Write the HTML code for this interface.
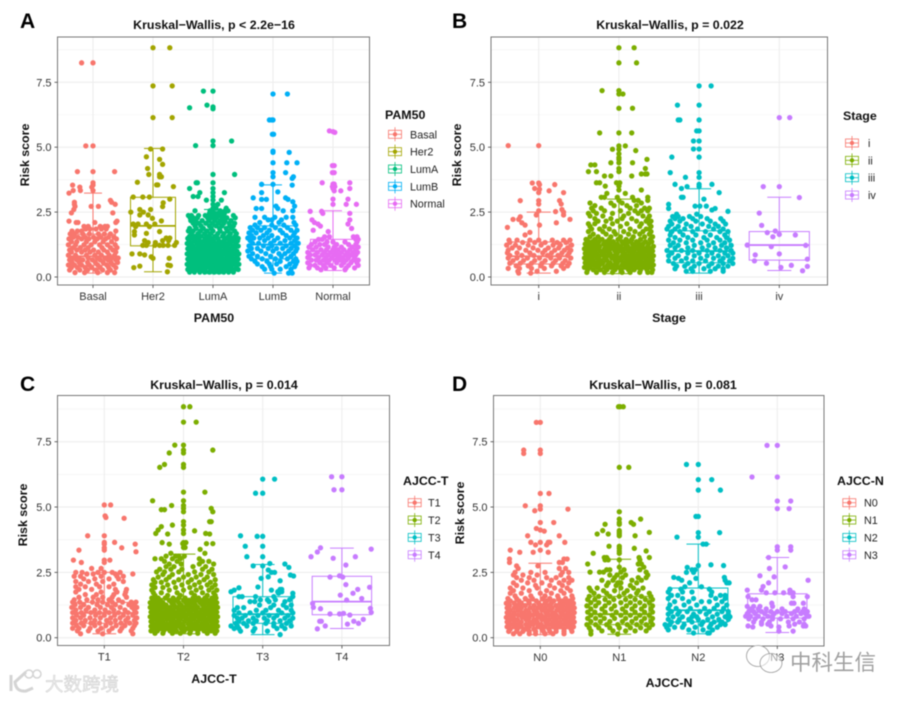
<!DOCTYPE html>
<html lang="en">
<head>
<meta charset="utf-8">
<title>Risk score by subtype and stage</title>
<style>
html,body{margin:0;padding:0;background:#fff;}
#figure{display:block;width:906px;height:701px;filter:blur(.4px);font-family:"Liberation Sans","Noto Sans CJK SC",sans-serif;}
.t{font-weight:bold;font-size:12.4px;fill:#111;}
.letter{font-weight:bold;font-size:21px;fill:#000;}
.tick{font-size:11px;fill:#333;}
.leg{font-size:10.8px;fill:#222;}
</style>
</head>
<body>
<svg id="figure" xmlns="http://www.w3.org/2000/svg" width="906" height="701" viewBox="0 0 906 701">
<rect width="906" height="701" fill="#fff"/>

<g id="panel-a"></g>
<g id="panel-b"></g>
<g id="panel-c"></g>
<g id="panel-d"></g>

<text class="letter" x="20" y="28">A</text>
<text class="letter" x="452" y="28">B</text>
<text class="letter" x="20" y="391">C</text>
<text class="letter" x="452" y="391">D</text>

<text class="t" x="214" y="29" text-anchor="middle">Kruskal−Wallis, p &lt; 2.2e−16</text>
<text class="t" x="670" y="29" text-anchor="middle">Kruskal−Wallis, p = 0.022</text>
<text class="t" x="224" y="389" text-anchor="middle">Kruskal−Wallis, p = 0.014</text>
<text class="t" x="663" y="389" text-anchor="middle">Kruskal−Wallis, p = 0.081</text>

<text class="t" transform="translate(29,155) rotate(-90)" text-anchor="middle">Risk score</text>
<text class="t" transform="translate(461,155) rotate(-90)" text-anchor="middle">Risk score</text>
<text class="t" transform="translate(27,515) rotate(-90)" text-anchor="middle">Risk score</text>
<text class="t" transform="translate(464,513) rotate(-90)" text-anchor="middle">Risk score</text>

<text class="t" x="214" y="322" text-anchor="middle">PAM50</text>
<text class="t" x="669" y="322" text-anchor="middle">Stage</text>
<text class="t" x="214" y="683" text-anchor="middle">AJCC-T</text>
<text class="t" x="669" y="687" text-anchor="middle">AJCC-N</text>

<text class="t" x="385" y="119">PAM50</text>
<text class="t" x="843" y="120">Stage</text>
<text class="t" x="403" y="485">AJCC-T</text>
<text class="t" x="837" y="485">AJCC-N</text>

<g>
  <path d="M11 675 L11 691 M26 672 L15 682 Q16 692 26 691 L33 688" fill="none" stroke="#d4d4d4" stroke-width="3"/>
  <circle cx="29" cy="674" r="4" fill="none" stroke="#d4d4d4" stroke-width="1.5"/>
  <circle cx="37" cy="674" r="4" fill="none" stroke="#d4d4d4" stroke-width="1.5"/>
  <text x="45" y="691" font-size="18.5" fill="#ececec" stroke="#c8c8c8" stroke-width=".4">大数跨境</text>
</g>
<g>
  <ellipse cx="758" cy="656" rx="11.5" ry="10.5" fill="#fff" stroke="#999" stroke-width=".8"/>
  <ellipse cx="771" cy="663" rx="11" ry="9.5" fill="#fff" fill-opacity=".55" stroke="#999" stroke-width=".8"/>
  <text x="790" y="670" font-size="21.5" fill="#a0a0a0">中科生信</text>
</g>
</svg>

<script>
/* ---------- shared axis values ---------- */
const yTickValues = [0, 2.5, 5, 7.5];
const yTickLabels = ['0.0', '2.5', '5.0', '7.5'];
const yMinorValues = [1.25, 3.75, 6.25, 8.75];

/* ---------- colours ---------- */
const colors5 = ['#F8766D', '#A3A500', '#00BF7D', '#00B0F6', '#E76BF3'];
const colors4 = ['#F8766D', '#7CAE00', '#00BFC4', '#C77CFF'];

/* ---------- categories ---------- */
const pam50Categories = ['Basal', 'Her2', 'LumA', 'LumB', 'Normal'];
const stageCategories = ['i', 'ii', 'iii', 'iv'];
const ajccTCategories = ['T1', 'T2', 'T3', 'T4'];
const ajccNCategories = ['N0', 'N1', 'N2', 'N3'];

/* ---------- box stats: low whisker, q1, median, q3, high whisker ---------- */
const pam50Boxes = [[.15,.45,.8,1.65,3.23],[.2,1.2,1.97,3.07,4.95],[.13,.5,.9,1.5,2.6],[.15,.7,1.25,1.97,3.55],[.25,.65,1,1.45,2.55]];
const stageBoxes = [[.15,.5,.8,1.35,2.5],[.13,.45,.8,1.4,3],[.15,.55,1,1.78,3.4],[.25,.65,1.23,1.75,3.07]];
const ajccTBoxes = [[.15,.55,.95,1.35,2.5],[.15,.5,.9,1.5,3.2],[.12,.55,.9,1.57,2.8],[.35,.88,1.38,2.35,3.43]];
const ajccNBoxes = [[.12,.5,.85,1.4,2.85],[.13,.5,.9,1.58,3],[.15,.6,1.05,1.9,3.58],[.2,.75,.98,1.68,3.07]];

/* ---------- points: each row is [risk score, jitter% of category spacing, ...] ---------- */
const basalPoints = [[8.25,-19,0],[5.05,-12,0],[4.06,-26,0,36],[3.63,0],[3.54,-34,0],[3.46,-22,-2],[3.33,-33,-21,0],[3.23,-40],[2.95,29],[2.88,31,-31],[2.8,37,-31],[2.72,-30,-3,9],[2.6,-32],[2.47,-36,33],[2.15,-40,40],[2.1,-28,-25,3,38],[1.95,-15,-8,12,20,24],[1.85,-12,-5,5,14,22],[1.77,-35,-26,-19,38],[1.66,-38,-31,-17,-6,9,19,29],[1.53,-33,-25,-13,1,13,26,35],[1.47,-40,-19,-7,7,21,39],[1.36,-36,-27,-11,3,17,31],[1.24,-41,-29,-15,-3,11,24,37],[1.13,-33,-21,-8,15,29,40],[1.04,-39,-27,-13,1,18,33],[.96,-36,-19,-5,9,24,38],[.84,-41,-29,-11,3,14,27,36],[.73,-33,-23,-8,7,20,31,42],[.66,-39,-27,-17,-1,12,25,38],[.56,-35,-23,-9,4,17,30,41],[.46,-41,-31,-19,-6,8,23,34],[.36,-36,-26,-13,-2,12,26,38],[.27,-39,-22,-9,5,16,29],[.17,-30,-14,8,24,36]];
const her2Points = [[8.83,0,28],[7.36,0,32],[6.14,0,32],[4.93,-4,16],[4.63,-11],[4.53,11],[4.34,16],[4.18,-9],[3.95,-7,11],[3.86,14,11],[3.65,-26],[3.55,6,8],[3.48,34],[3.08,-33,-17,-6],[3,28],[2.86,17],[2.71,16],[2.6,-22,-4],[2.5,-37,-16],[2.39,-8,-22],[2.26,-1],[2.16,14],[2.04,-33,-25,-11,3],[1.94,-29,-6],[1.75,-31,11],[1.68,-11],[1.62,-31],[1.5,28,22],[1.4,-14,16,26],[1.33,39,-8,4],[1.22,-17,-11,3,11,17,25,36],[.89,-35,-22],[.85,-14],[.78,-3],[.72,0,27],[.42,-22],[.36,-32],[.46,25],[.44,29],[.2,24]];
const lumAPoints = [[7.16,-16,0],[6.62,-10],[6.55,0],[6.52,-39],[6.48,0],[5.24,0,31],[5.06,0,-29],[3.95,0,36],[3.63,-28,-26,0],[3.41,-39,0],[3.25,0,19,-22],[3.1,-25,-33,0],[2.96,-11,14,0],[2.8,0,8],[2.65,0,5,22],[2.55,-30,-5,-1,12,20,25],[2.45,-6,0,3,8,14,19],[2.37,-41,-36,-24,-13,-5,2,9,17,34],[2.28,-38,-33,-26,-9,-2,6,15,23,37],[2.17,-37,-29,-18,-7,3,12,20,30],[2.07,-33,-24,-12,-1,9,18,27,36],[1.97,-30,-20,-6,5,15,28,34],[1.87,-39,-28,-16,-3,11,22,31],[1.77,-41,-33,-21,-10,0,12,24,36],[1.67,-36,-25,-14,-4,8,18,29,39],[1.57,-39,-30,-20,-8,4,16,26,37],[1.49,-42,-34,-25,-13,-3,8,21,32,42],[1.39,-40,-31,-22,-15,-7,1,10,18,27,35,41],[1.29,-43,-36,-27,-20,-11,-4,5,13,21,29,38],[1.19,-39,-33,-24,-16,-8,0,8,16,24,33,42],[1.09,-42,-35,-28,-20,-13,-4,4,11,20,27,36],[.99,-39,-31,-24,-16,-9,-1,7,15,23,31,40],[.89,-43,-35,-27,-20,-13,-5,3,11,19,28,36,43],[.79,-39,-32,-24,-17,-9,-1,7,14,23,31,40],[.69,-42,-35,-28,-21,-13,-5,3,10,18,26,35,42],[.59,-39,-31,-24,-16,-8,0,8,15,23,31,39],[.49,-43,-36,-28,-20,-12,-4,4,12,19,27,35,43],[.39,-40,-32,-25,-17,-9,-1,7,15,23,30,39],[.29,-42,-35,-28,-20,-13,-4,4,12,20,28,36,42],[.19,-39,-31,-22,-14,-6,2,10,18,26,34]];
const lumBPoints = [[7.05,0,24],[6.05,-6,-2,0],[5.5,-1,1],[4.85,0],[4.8,0,27],[4.4,0,23,40],[4.02,0,21],[3.86,0,34],[3.8,32],[3.57,-19,0],[3.54,32],[3.28,8],[3.25,-19],[3.05,-33,21],[2.99,-19,-11,25],[2.9,33],[2.73,36,5],[2.64,-28,-19,8],[2.55,17,33],[2.3,-30,-14,3,22,33],[2.2,-8,14,-2],[2.1,-22,10,35],[2,-30,-2,18,38],[1.9,-38,-26,-14,4,24],[1.8,-34,-20,-6,12,30,40],[1.7,-40,-28,-10,16,36],[1.6,-36,-16,-2,22,34],[1.5,-42,-32,-22,-8,8,28,40],[1.4,-38,-14,2,20,36],[1.3,-34,-24,-4,12,30,42],[1.2,-40,-16,-2,22,36],[1.1,-36,-26,-8,6,16,30,40],[1,-42,-20,0,26,38],[.9,-34,-12,10,20,34],[.8,-40,-26,-4,14,30],[.7,-36,-18,4,24,38],[.6,-30,-10,12,34,40],[.5,-26,-6,6,28,38],[.4,-18,-4,22,36],[.3,-14,-2,12,30],[.15,2,26,32]];
const normalPoints = [[5.63,-6],[5.6,0],[5.57,3],[4.29,-1,2],[4.02,-1,2],[3.63,-18,28],[3.58,0,2],[3.48,-1,3],[3.41,28,0],[3.32,13,2],[3,0,25],[2.8,0,22,39],[2.53,-38,-19],[2.45,-17,28],[2.2,-35,28],[2.1,-31],[2.04,-25,25],[1.96,-21],[1.87,31],[1.8,-33],[1.75,-8],[1.55,-14,-6,34,40],[1.45,-24,-18,38,42],[1.35,-30,-10,0,20,40],[1.25,-36,-22,-14,6,26,38],[1.15,-40,-28,-8,2,14,32,42],[1.05,-34,-20,-11,0,8,18,28,38],[.95,-42,-26,-14,-4,5,14,24,34,41],[.85,-38,-30,-18,-8,2,10,21,30,38],[.75,-42,-24,-12,-2,8,16,26,36],[.65,-36,-28,-16,-6,4,12,22,34,42],[.55,-42,-22,-10,6,18,30,40],[.45,-38,-30,-16,-4,14,26,42],[.35,-40,-26,-12,2,22,36],[.28,-20,20]];

const stageIPoints = [[5.06,-38,0],[3.62,-8,0],[3.56,20,1],[3.41,-5],[3.38,1],[3.32,13],[3.25,31,0],[2.94,-23,26,0],[2.81,28,0],[2.6,29],[2.55,0],[2.52,21],[2.5,31],[2.39,31,-3],[2.32,-23],[2.22,-32,-25,39],[2.09,-21,22],[2,-17,1],[1.91,-39],[1.72,-11],[1.62,-17],[1.42,-37,-27,-11,0,17,31,39],[1.33,-36,-20,-5,8,23,34],[1.23,-40,-29,-13,3,18,27,41],[1.12,-33,-24,-7,12,25,36],[1.03,-38,-16,-1,8,20,32,40],[.93,-39,-27,-11,5,16,29,38],[.83,-36,-21,-6,11,24,36],[.73,-38,-27,-14,1,15,26,40],[.63,-32,-19,-5,8,21,33],[.53,-36,-23,-9,4,18,30,38],[.43,-28,-13,3,16,28,36],[.33,-38,-24,-9,7,31],[.22,-26,-2,22],[.15,-25,-10]];
const stageIiPoints = [[8.83,0,19],[8.25,0,22],[7.18,-21,0],[7.05,0,5],[6.5,0,17],[5.55,-24,0,16],[5.05,0,8],[4.92,-8,0],[4.87,21],[4.75,0],[4.6,0],[4.53,35,0],[4.4,-10,17,0],[4.32,-35,-30],[4.18,33,0],[4.06,-38,-28,0],[3.97,33,28,35],[3.89,-18,-10,16],[3.63,-28,-24,-3,1],[3.5,-17,0],[3.35,28,0],[3.22,-15,8],[3.07,-22,-18,-2,17,36],[2.95,19,24,36,0],[2.85,-36,-10,4,28],[2.75,-30,-6,10,22],[2.65,-34,-22,14,32,38],[2.55,-32,-18,2,20,28,36],[2.45,-38,-28,-8,12,24],[2.35,-36,-20,6,30,38],[2.25,-30,-10,4,16,36],[2.15,-26,-16,-2,22,34,40],[2.05,-38,-30,-8,10,28,38],[1.95,-36,-18,2,26,40],[1.85,-34,-24,-12,14,34,38],[1.75,-38,-20,-6,6,20,30,40],[1.65,-32,-16,-4,12,26,38],[1.55,-36,-26,-10,2,18,32,42],[1.45,-41,-30,-21,-12,-1,9,16,27,39],[1.36,-38,-33,-25,-16,-7,4,12,22,33,41],[1.27,-42,-35,-28,-19,-11,-2,7,17,25,30,37],[1.18,-40,-31,-24,-14,-6,2,11,20,28,36,43],[1.09,-43,-36,-27,-18,-10,-1,7,15,24,32,39],[1,-39,-32,-23,-15,-5,3,12,19,27,35,42],[.91,-42,-35,-28,-19,-11,-2,7,16,24,31,38],[.82,-40,-31,-24,-14,-6,4,11,20,28,36,43],[.73,-43,-36,-27,-18,-9,-1,8,15,23,32,39],[.64,-39,-32,-23,-15,-5,3,12,19,27,35,42],[.55,-42,-35,-28,-20,-11,-2,7,16,24,31,38],[.46,-40,-31,-24,-14,-6,4,11,20,28,36,43],[.37,-43,-36,-27,-18,-10,-1,8,15,23,32,39],[.28,-39,-32,-23,-15,-5,3,12,19,27,35,42],[.18,-40,-28,-18,-8,4,14,26,36,41]];
const stageIiiPoints = [[7.36,0,15],[6.62,-27,0],[6.05,-26,-24,0],[5.63,-3,0],[5.24,-7,0],[4.93,-7,0],[4.62,-34,0],[4.02,-36,0],[3.84,-17,0],[3.57,-30,0,16],[3.48,-15,0],[3.41,-22],[3.25,25],[3.07,-22,-20],[3,6],[2.8,-38],[2.73,-5,1,9],[2.64,20,-38],[2.58,16],[2.53,36],[2.42,-3,-28],[2.33,-33,-26,-12,2],[2.25,27,-30,-20,-8,10],[2.15,-36,-24,-4,14,30],[2.04,33,-34,-16,4,20],[1.95,-38,-26,-10,12,24],[1.85,-40,-30,-18,-2,18,30],[1.75,-34,-24,-8,8,26,36],[1.62,-36,-20,-4,14,32],[1.52,-30,-14,6,22,34],[1.42,-38,-24,-8,10,26,38],[1.32,-32,-16,2,18,32],[1.22,-36,-26,-6,12,28,40],[1.12,-30,-14,4,20,34],[1.02,-40,-22,-8,10,26,40],[.92,-34,-14,0,16,32,42],[.82,-38,-26,-6,10,24,36],[.72,-30,-16,2,18,30,42],[.62,-38,-22,-8,8,26,38],[.52,-32,-14,0,16,30,42],[.42,-28,-18,-6,12,24,36],[.32,-30,-10,6,20,30],[.22,-16,-8,14,30]];
const stageIvPoints = [[6.14,0,13],[3.48,-20,0],[3.06,25],[2.46,-25],[1.99,-22],[1.77,-5],[1.71,-15],[1.64,0],[1.62,20],[1.55,-8],[1.23,-40],[1.22,33],[1.17,-10],[.89,0],[.85,-30],[.69,35],[.62,-31],[.53,-16],[.45,15],[.41,35],[.37,2],[.24,29]];

const t1Points = [[5.08,0,8],[4.66,1],[4.6,2],[4.57,25],[3.9,-21,0],[3.65,13,0],[3.58,39,0],[3.44,22,0],[3.35,-32,0],[3.29,40],[2.97,-39,0,7],[2.88,-29,0],[2.65,-16,-4],[2.5,-36,-28,-8,0,10,20],[2.44,36,-22,-14,14],[2.35,-38,-30,-4,16,24],[2.25,-26,-12,6,18],[2.15,-36,-20,-2,24],[2.05,-30,-10,12],[1.95,-36,-24,-6,6],[1.85,-32,-16,14,28],[1.75,-36,-4,16,27],[1.65,-24,-10,12,26],[1.55,-32,-14,-2,10,28],[1.45,-38,-22,-8,6,18],[1.36,-40,-31,-15,-2,10,23,34,40],[1.26,-37,-26,-9,4,14,31,38],[1.16,-41,-30,-20,-5,9,20,35,41],[1.06,-36,-23,-12,1,12,26,38],[.96,-40,-29,-17,-6,6,18,30,40],[.86,-35,-26,-11,0,13,24,36],[.76,-40,-30,-18,-5,8,20,30,41],[.66,-36,-24,-12,3,14,27,38],[.56,-40,-29,-17,-6,8,21,32,40],[.46,-35,-26,-12,2,15,26,38],[.36,-40,-32,-18,-4,10,22,36],[.26,-34,-20,-8,6,20,34],[.15,-30,-2,36]];
const t2Points = [[8.84,0,8],[8.25,0,16],[7.37,-11,0],[7.18,0,37],[7.07,-18,0],[6.63,-24,0],[6.52,-30,0],[5.57,0,27],[5.24,-39,0],[5.06,-15,0],[4.95,35,0],[4.9,-28,-24],[4.82,37,0],[4.44,33,35,0],[4.31,-14,0],[4.25,-28],[4.12,-32,0],[4.09,14],[3.99,-35,28,0],[3.97,-20,33],[3.64,-27,0,3],[3.6,37,29,-1],[3.58,-18],[3.45,0,2],[3.38,21],[3.23,27,-16],[3.12,-22,-10,-6,1],[3.02,-36,-28,-14,-4,20],[2.92,-24,-8,24,32],[2.82,-18,-3,20,38],[2.72,-22,-12,12,28],[2.62,-30,-16,-2,24,36],[2.52,-34,-24,-6,14,32],[2.42,-26,-14,6,22,38],[2.32,-32,-18,0,16,30],[2.22,-38,-22,-6,10,26,40],[2.12,-36,-28,-12,6,20,34],[2.02,-40,-20,-2,14,30,40],[1.92,-36,-26,-10,8,22,36],[1.82,-40,-18,0,16,32,42],[1.72,-38,-28,-8,10,24,38],[1.62,-36,-20,-4,14,30,40],[1.52,-40,-32,-23,-13,-6,2,12,19,27,36,41],[1.43,-37,-29,-18,-10,0,7,16,24,31,39],[1.34,-42,-33,-26,-15,-6,3,11,21,28,35,42],[1.25,-38,-30,-22,-12,-3,6,15,24,32,40],[1.16,-42,-34,-26,-17,-8,1,10,18,27,36,43],[1.07,-38,-30,-21,-13,-4,5,14,23,31,39],[.98,-41,-34,-25,-17,-8,0,9,18,27,35,42],[.89,-38,-29,-21,-12,-3,5,14,22,31,39],[.8,-42,-33,-25,-17,-8,1,10,18,26,35,43],[.71,-37,-29,-21,-13,-4,5,13,22,31,39],[.62,-41,-33,-26,-16,-8,1,9,18,27,35,42],[.53,-38,-30,-21,-12,-4,6,14,23,30,39],[.44,-41,-34,-25,-17,-8,0,10,18,27,35,43],[.35,-38,-29,-21,-13,-3,5,14,22,31,39],[.26,-41,-33,-25,-17,-9,1,9,18,26,35,42],[.17,-36,-26,-14,-4,8,18,30,40]];
const t3Points = [[6.07,0,15],[5.53,-9,0],[3.9,-28],[3.88,-7,0],[3.5,-22,0],[3.1,-20,0],[2.84,9],[2.82,28],[2.75,-12,0],[2.69,33],[2.59,7],[2.5,11,15],[2.4,35],[2.36,39],[2.33,7],[2.27,-2],[2.18,22],[1.94,-6],[1.91,-30],[1.85,24,22],[1.82,-36,11],[1.76,-40,19,24],[1.7,38,20],[1.57,38,-30,-26,-9,14],[1.45,-3,6,16,34],[1.38,-16,-10,8,28],[1.25,-4,14,26,36],[1.15,-32,-24,10,30],[1.05,-36,-8,4,20,36],[.95,-30,-16,0,24,38],[.85,-36,-22,-6,8,18,32],[.75,-32,-26,-12,2,14,28,38],[.65,-30,-18,-8,6,22,34],[.55,-34,-24,-12,4,14,30],[.45,-40,-32,-20,14,24,36],[.35,-36,-30,-10,18,28],[.25,-28,-12,6],[.12,22]];
const t4Points = [[6.16,-13,0],[5.66,-10,0],[3.44,-27],[3.39,37],[3.28,-31],[3.1,-39,17],[3.04,-11],[2.78,5],[2.37,-3],[2.32,-15,1],[2.03,5],[1.93,35],[1.85,20],[1.7,14],[1.63,-2],[1.5,25],[1.44,6],[1.31,-37],[1.16,-36],[1.12,36],[1.11,-27],[.97,37],[.93,2],[.91,-15,-3],[.87,10],[.7,27],[.63,-28,-26,15],[.55,21],[.52,7],[.45,-21],[.34,-31]];

const n0Points = [[8.24,-5,0],[7.18,-21,0],[7.05,-21,0],[5.52,0,11],[5.05,-19,0],[4.92,0,35],[4.86,-7],[4.41,0,17],[4.18,-5],[4.12,0],[4.08,5],[3.9,-16,24],[3.65,-12,0,10,12,31],[3.55,-6,8],[3.35,-38,0],[3.27,-26,-9,10],[3.01,-39,34,30],[2.88,-39,24,28],[2.75,-30,-3],[2.65,-28,24,32],[2.5,-32,-12,6,28,36],[2.4,-34,-22,-4,26],[2.3,-30,-14,8,20,36],[2.2,-24,-8,14,30,40],[2.1,-34,-16,2,24,36],[2,-30,-6,12,28],[1.9,-38,-22,-4,18,34],[1.8,-34,-14,8,26,38],[1.7,-38,-24,0,14,30],[1.6,-32,-12,6,22,40],[1.5,-41,-30,-19,-10,3,12,23,32,41],[1.41,-38,-27,-15,-5,8,17,28,37],[1.32,-43,-33,-24,-14,-2,6,14,25,33,42],[1.23,-39,-29,-19,-8,1,11,20,29,38],[1.14,-42,-33,-24,-13,-3,6,15,25,34,43],[1.05,-38,-28,-18,-8,2,11,21,30,39],[.96,-42,-33,-23,-14,-4,7,16,26,35,43],[.87,-38,-28,-19,-9,1,11,20,30,38],[.78,-43,-34,-23,-14,-3,6,16,25,34,42],[.69,-38,-29,-18,-8,2,11,20,30,39],[.6,-42,-33,-24,-13,-4,7,16,25,34,43],[.51,-38,-28,-18,-9,1,11,21,30,38],[.42,-42,-33,-24,-14,-3,6,16,25,35,42],[.33,-38,-29,-19,-8,2,11,20,30,39],[.24,-40,-30,-22,-14,-6,4,12,20,30,40],[.15,-34,-26,-14,-6,6,16,30]];
const n1Points = [[8.84,-1,1,5],[6.52,0,12],[4.82,0],[4.54,27,0],[4.41,15,0],[4.34,18,-18,0],[4.1,-21,0],[4.03,38,0],[3.97,-28,-14,0],[3.9,20,0],[3.5,-13,0],[3.42,19,0],[3.32,34,0],[3.23,-33,0],[3.07,-19,-16,25,38],[2.98,-18,-14,0,26],[2.82,-40,28,24],[2.7,0,31],[2.6,-12,-16,6,26],[2.51,-37,-25,-20,2,34],[2.4,-12,-3,8,36],[2.3,-6,4,24,34],[2.2,-22,-8,16,28],[2.1,-14,2,22,-2],[2,-4,14,-16],[1.9,-38,-28,2,18,30],[1.8,-36,-20,-6,10,24],[1.7,-32,-16,6,22,38],[1.58,-38,-26,-12,0,14,28,40],[1.46,-40,-31,-18,-7,8,20,33,42],[1.34,-36,-26,-13,2,14,26,38],[1.22,-41,-30,-18,-6,9,20,32,42],[1.1,-36,-22,-10,4,16,28,40],[.98,-40,-31,-18,-4,8,20,32,42],[.86,-36,-24,-9,2,14,26,38],[.74,-40,-30,-19,-6,8,21,32,42],[.62,-36,-24,-12,4,16,28,40],[.5,-41,-30,-16,-2,10,22,34,42],[.38,-38,-26,-12,0,14,27,38],[.26,-36,-22,-8,8,20,34],[.14,-36,-2]];
const n2Points = [[6.63,-15,0],[6.05,0,17],[5.65,0,28],[4.64,-3,0],[4.02,0,27],[3.85,-27,0],[3.58,6,10],[2.79,16],[2.76,0,32],[2.69,-14],[2.6,-8,-4],[2.5,-15,-6],[2.31,-31,33],[2.27,-25,-3],[2.2,-21,34],[2.1,-11,36,39],[1.95,-17,4],[1.86,-36,-22,14],[1.75,-38,-20,-8,17],[1.62,-34,-26,16,28,34],[1.5,-38,-20,-6,22,34],[1.38,-30,-12,4,14,30],[1.25,-36,-18,-2,24,36],[1.12,-38,-28,-10,8,20,32],[1,-34,-24,-14,2,14,30,38],[.9,-38,-26,-6,10,24,38],[.8,-32,-20,-8,-2,18,34,40],[.7,-38,-24,-12,0,12,26,38],[.6,-34,-26,-8,6,20,30],[.5,-42,-36,-18,4,16,28,34],[.4,-40,-30,-20,-4,14,24],[.3,-38,-12,6,18],[.18,-6,12,14]];
const n3Points = [[7.36,-13,0],[6.15,-32,0],[5.23,0,17],[4.94,0,15],[3.48,0,17],[3.35,0,17],[3.07,-11],[2.71,10],[2.65,-10],[2.37,-22],[2.33,-4],[2.2,39],[2.1,-11],[1.96,-18],[1.82,-38,-20,16],[1.72,-14,-3,8,16,20],[1.57,-37,38,20],[1.45,-32,-27],[1.32,-7,18,21,33],[1.2,-38,-22,-6,-30],[1.1,-33,-24,-14,6,26,34],[1,-36,-30,-20,-8,0,10,22,32,38],[.92,-38,-28,-16,-4,6,18,30,36],[.82,-40,-34,-24,-12,-6,12,24,38,40],[.72,-36,-28,-18,-6,4,20,34],[.6,-30,-20,-10,14,28],[.52,-20,-12,22,34],[.45,-37,-8,15,33,36],[.41,-31,2],[.25,2,20]];

/* ---------- series per panel ---------- */
const pam50Series = [basalPoints, her2Points, lumAPoints, lumBPoints, normalPoints];
const stageSeries = [stageIPoints, stageIiPoints, stageIiiPoints, stageIvPoints];
const ajccTSeries = [t1Points, t2Points, t3Points, t4Points];
const ajccNSeries = [n0Points, n1Points, n2Points, n3Points];

const NS = 'http://www.w3.org/2000/svg';
function mk(parent, tag, attrs, text) {
  const el = document.createElementNS(NS, tag);
  for (const k in attrs) el.setAttribute(k, attrs[k]);
  if (text !== undefined) el.textContent = text;
  parent.appendChild(el);
  return el;
}

function drawPanel(id, frame, categories, boxes, series, colors, legend) {
  const root = document.getElementById(id);
  const xScale = i => frame.x0 + i * frame.step;
  const xJitter = (i, j) => xScale(i) + j / 100 * frame.step;
  const yScale = v => frame.y0 - v * frame.unit;
  const clampBottom = frame.bottom;

  /* grid */
  yMinorValues.forEach(v => {
    const g = mk(root, 'line', {x1: frame.left, x2: frame.right, y1: yScale(v), y2: yScale(v), stroke: '#f2f2f2', 'stroke-width': .6});
    
    
  });
  yTickValues.forEach(v => {
    const g = mk(root, 'line', {x1: frame.left, x2: frame.right, y1: yScale(v), y2: yScale(v), stroke: '#ececec', 'stroke-width': 1});
    
    
  });
  categories.forEach((c, i) => {
    const g = mk(root, 'line', {x1: xScale(i), x2: xScale(i), y1: frame.top, y2: clampBottom, stroke: '#ececec', 'stroke-width': 1});
    
    
  });

  /* boxes */
  const boxW = frame.step * .75;
  const capW = frame.step * .3;
  boxes.forEach((b, i) => {
    const cx = xScale(i);
    const col = colors[i];
    const grp = mk(root, 'g', {fill: 'none', stroke: col, 'stroke-width': 1});
    
    
    const rect = mk(grp, 'rect', {x: cx - boxW / 2, y: yScale(b[3]), width: boxW, height: yScale(b[1]) - yScale(b[3])});
    
    
    const med = mk(grp, 'line', {x1: cx - boxW / 2, x2: cx + boxW / 2, y1: yScale(b[2]), y2: yScale(b[2]), 'stroke-width': 1.8});
    
    
    const wh = mk(grp, 'line', {x1: cx, x2: cx, y1: yScale(b[3]), y2: yScale(b[4])});
    
    
    const wl = mk(grp, 'line', {x1: cx, x2: cx, y1: yScale(b[1]), y2: yScale(b[0])});
    
    
    const ch = mk(grp, 'line', {x1: cx - capW / 2, x2: cx + capW / 2, y1: yScale(b[4]), y2: yScale(b[4])});
    
    
    const cl = mk(grp, 'line', {x1: cx - capW / 2, x2: cx + capW / 2, y1: yScale(b[0]), y2: yScale(b[0])});
    
    
  });

  /* points */
  series.forEach((rows, i) => {
    const grp = mk(root, 'g', {fill: colors[i]});
    
    
    rows.forEach(row => {
      for (let k = 1; k < row.length; k++) {
        const p = mk(grp, 'circle', {cx: xJitter(i, row[k]), cy: yScale(row[0]), r: 2.65});
        
        
      }
    });
  });

  /* frame */
  const fr = mk(root, 'rect', {x: frame.left, y: frame.top, width: frame.right - frame.left, height: clampBottom - frame.top, fill: 'none', stroke: '#777', 'stroke-width': 1});
  
  

  /* y axis */
  yTickValues.forEach((v, i) => {
    const t = mk(root, 'line', {x1: frame.left - 3, x2: frame.left, y1: yScale(v), y2: yScale(v), stroke: '#444', 'stroke-width': .8});
    
    
    const l = mk(root, 'text', {x: frame.left - 6, y: yScale(v) + 4, 'text-anchor': 'end', class: 'tick'}, yTickLabels[i]);
    
    
  });

  /* x axis */
  categories.forEach((c, i) => {
    const t = mk(root, 'line', {x1: xScale(i), x2: xScale(i), y1: clampBottom, y2: clampBottom + 3, stroke: '#444', 'stroke-width': .8});
    
    
    const l = mk(root, 'text', {x: xScale(i), y: clampBottom + 15, 'text-anchor': 'middle', class: 'tick'}, c);
    
    
  });

  /* legend */
  categories.forEach((c, i) => {
    const cy = legend.y + i * legend.gap;
    const cx = legend.x;
    const grp = mk(root, 'g', {fill: 'none', stroke: colors[i], 'stroke-width': .8});
    
    
    const r = mk(grp, 'rect', {x: cx - 6.5, y: cy - 4, width: 13, height: 8});
    
    
    const v = mk(grp, 'line', {x1: cx, x2: cx, y1: cy - 7, y2: cy + 7});
    
    
    const m = mk(grp, 'line', {x1: cx - 6.5, x2: cx + 6.5, y1: cy, y2: cy});
    
    
    const d = mk(grp, 'circle', {cx: cx, cy: cy, r: 2.2, fill: colors[i], stroke: 'none'});
    
    
    const l = mk(root, 'text', {x: legend.labelX, y: cy + 4, class: 'leg'}, c);
    
    
  });
}

drawPanel('panel-a', {left: 57.5, right: 369.5, top: 37, bottom: 285, x0: 93, step: 60, y0: 277, unit: 25.96},
  pam50Categories, pam50Boxes, pam50Series, colors5, {x: 395, y: 134.3, gap: 17.35, labelX: 410});
drawPanel('panel-b', {left: 491, right: 827.5, top: 37, bottom: 285, x0: 538.7, step: 80.2, y0: 277, unit: 25.96},
  stageCategories, stageBoxes, stageSeries, colors4, {x: 852, y: 143, gap: 17.35, labelX: 868});
drawPanel('panel-c', {left: 57.5, right: 389.5, top: 395.5, bottom: 645.5, x0: 104.3, step: 79.2, y0: 637.7, unit: 26.13},
  ajccTCategories, ajccTBoxes, ajccTSeries, colors4, {x: 414.7, y: 502.7, gap: 17.35, labelX: 428});
drawPanel('panel-d', {left: 493.5, right: 824, top: 395.5, bottom: 646, x0: 540.3, step: 79, y0: 637.7, unit: 26.13},
  ajccNCategories, ajccNBoxes, ajccNSeries, colors4, {x: 849.3, y: 502.7, gap: 17.35, labelX: 864});
</script>
</body>
</html>
